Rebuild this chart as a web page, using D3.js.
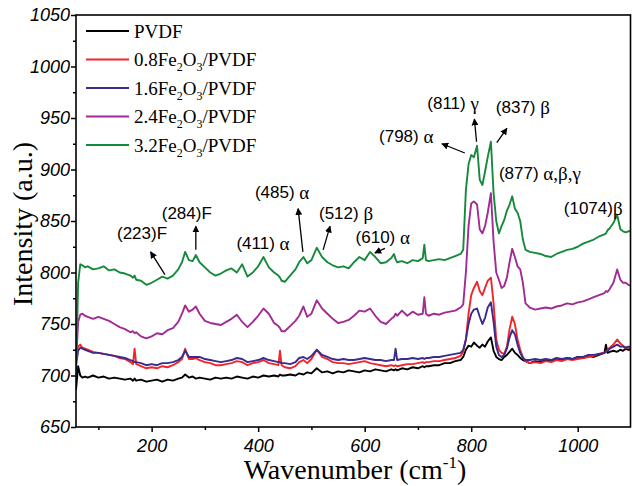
<!DOCTYPE html>
<html>
<head>
<meta charset="utf-8">
<script src="https://cdn.jsdelivr.net/npm/d3@7"></script>
<style>
  body { margin: 0; background: #fff; }
  svg { display: block; }
</style>
</head>
<body>
<div id="chart"></div>
<script>
// Raman spectra (cm^-1 vs a.u.)
const wavenumber = [
  58, 62, 66, 70, 75, 80, 90, 100, 110, 120,
  130, 140, 150, 160, 165, 168, 171, 180, 190, 200,
  210, 220, 230, 240, 250, 257, 263, 270, 277, 283,
  290, 300, 310, 320, 330, 340, 350, 360, 370, 380,
  390, 400, 410, 420, 430, 438, 441, 444, 450, 460,
  470, 477, 485, 492, 500, 510, 520, 530, 540, 550,
  560, 570, 580, 590, 600, 610, 620, 630, 640, 650,
  655, 658, 661, 670, 680, 690, 700, 709, 712, 715,
  720, 730, 740, 750, 760, 770, 780, 785, 790, 795,
  800, 805, 811, 816, 821, 826, 831, 837, 842, 847,
  852, 857, 862, 867, 872, 877, 882, 887, 892, 897,
  902, 910, 920, 930, 940, 950, 960, 970, 980, 990,
  1000, 1010, 1020, 1030, 1040, 1050, 1053, 1056, 1060, 1067,
  1074, 1080, 1085, 1090, 1095, 1100
];

const pvdf = [
  686, 709, 700, 698, 699, 698, 700, 698, 699, 697,
  698, 697, 696, 697, 695, 697, 695, 696, 694, 695,
  696, 694, 696, 695, 697, 698, 701, 698, 699, 697,
  698, 697, 696, 698, 697, 698, 697, 699, 698, 697,
  699, 698, 700, 699, 700, 699, 701, 700, 700, 701,
  700, 702, 701, 703, 702, 707, 703, 704, 702, 704,
  703, 705, 704, 703, 705, 704, 706, 705, 704, 706,
  705, 706, 705, 707, 706, 708, 707, 709, 708, 709,
  709, 710, 710, 712, 712, 714, 715, 718, 725, 729,
  728, 732, 729, 727, 730, 728, 733, 737, 724, 718,
  716, 715, 718, 720, 723, 726, 722, 720, 717, 715,
  714, 712, 714, 713, 715, 714, 716, 715, 717, 716,
  718, 717, 719, 718, 720, 722, 730, 722, 723, 724,
  723, 725, 724, 726, 725, 725
];

const fe08 = [
  715, 728, 730, 727, 726, 725, 723, 722, 721, 720,
  719, 717, 716, 713, 711, 726, 711, 709, 707, 708,
  707, 709, 708, 710, 713, 716, 726, 716, 716, 717,
  715, 713, 712, 710, 710, 711, 712, 714, 713, 710,
  712, 713, 715, 712, 711, 710, 724, 710, 708, 707,
  709, 713, 715, 712, 716, 725, 718, 716, 713, 712,
  712, 711, 712, 713, 714, 712, 711, 710, 709, 710,
  709, 710, 709, 710, 711, 711, 712, 713, 712, 713,
  713, 714, 714, 715, 716, 717, 719, 723, 735, 760,
  778, 785, 791, 782, 778, 785, 792, 795, 770, 735,
  725, 722, 721, 728, 745, 757, 750, 735, 725, 718,
  714, 712, 713, 712, 714, 713, 715, 714, 716, 715,
  716, 717, 718, 719, 721, 722, 723, 725, 727, 730,
  735, 731, 729, 727, 727, 726
];

const fe16 = [
  710, 724, 727, 726, 725, 724, 722, 722, 721, 720,
  719, 718, 717, 715, 714, 713, 713, 712, 710, 711,
  710, 712, 712, 713, 715, 718, 724, 718, 718, 718,
  718, 716, 715, 714, 713, 714, 715, 717, 716, 713,
  714, 715, 717, 715, 714, 713, 713, 712, 712, 711,
  713, 717, 718, 716, 719, 725, 720, 718, 716, 715,
  716, 715, 715, 716, 717, 716, 715, 715, 714, 715,
  715, 726, 715, 716, 716, 717, 716, 717, 716, 717,
  717, 718, 718, 719, 720, 721, 722, 725, 735, 750,
  760, 764, 765, 757, 750, 756, 766, 771, 752, 728,
  720, 718, 720, 726, 737, 744, 740, 730, 722, 717,
  715, 715, 716, 715, 716, 715, 717, 716, 717, 716,
  718, 718, 720, 720, 721, 722, 723, 724, 726, 728,
  730, 728, 728, 727, 728, 728
];

const fe24 = [
  712, 752, 759, 760, 758, 757, 755, 757, 755, 753,
  750, 747, 745, 742, 743, 741, 742, 738, 736, 738,
  741, 740, 744, 746, 752, 760, 768, 762, 764, 767,
  760, 753, 751, 750, 749, 752, 755, 759, 752, 747,
  752, 758, 765, 760, 751, 748, 746, 743, 743, 748,
  753, 758, 767, 757, 760, 773, 765, 760, 755, 751,
  752, 754, 758, 763, 762, 765, 758, 752, 750, 755,
  757, 760, 758, 763, 758, 762, 759, 760, 776, 760,
  758, 760, 759, 761, 762, 763, 766, 769, 800, 845,
  867, 869, 866, 842, 838, 845, 858, 877, 830, 800,
  793, 785, 787, 795, 810, 823, 815, 806, 803, 790,
  770, 766, 764, 765, 766, 765, 767, 768, 770, 769,
  771, 772, 774, 776, 778, 780, 782, 781, 784, 790,
  803, 793, 790, 790, 788, 787
];

const fe32 = [
  700, 790, 808, 807, 805, 806, 803, 804, 806, 802,
  803, 800, 799, 797, 795, 797, 793, 792, 788, 790,
  793, 796, 794, 797, 803, 810, 820, 812, 811, 817,
  810, 805, 800, 797, 799, 802, 804, 800, 808, 796,
  800, 806, 815, 805, 800, 797, 795, 792, 791, 797,
  803, 810, 815, 809, 812, 824, 815, 810, 807, 805,
  806, 804, 810, 815, 812, 820, 815, 809, 810, 814,
  818, 813, 810, 811, 809, 812, 811, 814, 827, 812,
  811, 812, 813, 812, 814, 816, 818, 822, 880, 905,
  914, 912, 923, 890, 885, 898, 912, 927, 877, 850,
  838, 845, 851, 860, 866, 874, 862, 858, 850, 832,
  822, 820, 819, 818, 816, 815, 818, 820, 822, 823,
  825, 828, 830, 832, 835, 837, 838, 841, 843, 848,
  856, 842, 840, 839, 840, 840
];

const seriesValues = [pvdf, fe08, fe16, fe24, fe32];
const seriesColors = ["#000000", "#f2262a", "#3a2b8e", "#a12a93", "#168a3b"];
// legend labels: [text, isSubscript]
const seriesLabels = [
  [["PVDF", 0]],
  [["0.8Fe", 0], ["2", 1], ["O", 0], ["3", 1], ["/PVDF", 0]],
  [["1.6Fe", 0], ["2", 1], ["O", 0], ["3", 1], ["/PVDF", 0]],
  [["2.4Fe", 0], ["2", 1], ["O", 0], ["3", 1], ["/PVDF", 0]],
  [["3.2Fe", 0], ["2", 1], ["O", 0], ["3", 1], ["/PVDF", 0]]
];

const xTicks = [200, 400, 600, 800, 1000];
const xMinorTicks = [100, 300, 500, 700, 900];
const yTicks = [650, 700, 750, 800, 850, 900, 950, 1000, 1050];
const yMinorTicks = [675, 725, 775, 825, 875, 925, 975, 1025];

// peak labels: anchor (wavenumber, intensity), optional arrow from -> to
const peakText = ["(223)F", "(284)F", "(411) ", "(485) ", "(512) ", "(610) ", "(798) ", "(811) ", "(837) ", "(877) ", "(1074)"];
const peakGreek = ["", "", "α", "α", "β", "α", "α", "γ", "β", "α,β,γ", "β"];
const peakPos = [[182, 838], [266, 858], [409, 829], [445, 878], [565, 858], [634, 834.5], [678, 932.5], [766, 965], [897, 961], [929, 897], [1029, 863]];
const peakArrows = [
  [[225, 798], [198, 820]],
  [[283, 822], [283, 845]],
  null,
  [[484, 820], [475, 862]],
  [[522, 822], [535, 845]],
  [[638, 823.5], [619, 819]],
  [[788, 916], [745, 925]],
  [[810, 927], [806, 949]],
  [[848, 926], [867, 940]],
  null,
  null
];

const width = 632, height = 486;
const marginLeft = 76, marginRight = 1, marginTop = 15, marginBottom = 59;

const svg = d3.select("#chart").append("svg")
  .attr("width", width)
  .attr("height", height);

const x = d3.scaleLinear().domain([58, 1100]).range([marginLeft, width - marginRight]);
const y = d3.scaleLinear().domain([650, 1050]).range([height - marginBottom, marginTop]);

svg.append("defs").append("clipPath").attr("id", "plot")
  .append("rect")
  .attr("x", marginLeft).attr("y", marginTop)
  .attr("width", width - marginLeft - marginRight)
  .attr("height", height - marginTop - marginBottom);

svg.append("defs").append("marker")
  .attr("id", "head")
  .attr("viewBox", "0 0 10 10")
  .attr("refX", 9).attr("refY", 5)
  .attr("markerWidth", 7).attr("markerHeight", 7)
  .attr("markerUnits", "userSpaceOnUse")
  .attr("orient", "auto")
  .append("path")
  .attr("d", "M0,0 L10,5 L0,10 z")
  .attr("fill", "#000");

// spectra
const line = d3.line()
  .x((d, i) => x(wavenumber[i]))
  .y(d => y(d));

const lines = svg.append("g").attr("clip-path", "url(#plot)");
seriesValues.forEach((vals, k) => {
  lines.append("path")
    .datum(vals)
    .attr("d", line)
    .attr("fill", "none")
    .attr("stroke", seriesColors[k])
    .attr("stroke-width", 1.9)
    .attr("stroke-linejoin", "round");
});

// axes
const tickFont = "italic 18px 'Liberation Sans', Arial, sans-serif";
const fmt = d3.format("d");

svg.append("g")
  .attr("transform", `translate(0,${height - marginBottom})`)
  .call(d3.axisBottom(x).tickValues(xTicks).tickFormat(fmt).tickSize(5).tickPadding(7).tickSizeOuter(0));
svg.append("g")
  .attr("transform", `translate(0,${height - marginBottom})`)
  .call(d3.axisBottom(x).tickValues(xMinorTicks).tickSize(3).tickFormat("").tickSizeOuter(0));

svg.append("g")
  .attr("transform", `translate(${marginLeft},0)`)
  .call(d3.axisLeft(y).tickValues(yTicks).tickFormat(fmt).tickSize(5).tickPadding(1).tickSizeOuter(0));
svg.append("g")
  .attr("transform", `translate(${marginLeft},0)`)
  .call(d3.axisLeft(y).tickValues(yMinorTicks).tickSize(3).tickFormat("").tickSizeOuter(0));

svg.selectAll(".domain").remove();
svg.selectAll(".tick line").attr("stroke", "#000").attr("stroke-width", 1.5);
svg.selectAll(".tick text").style("font", tickFont).attr("fill", "#000");

// frame
svg.append("rect")
  .attr("x", marginLeft).attr("y", marginTop)
  .attr("width", width - marginLeft - marginRight - 0.5)
  .attr("height", height - marginTop - marginBottom)
  .attr("fill", "none")
  .attr("stroke", "#000")
  .attr("stroke-width", 1.6);

// axis titles
const titleFont = "28px 'Liberation Serif', 'Times New Roman', serif";
const xt = svg.append("text")
  .attr("x", 355).attr("y", 479)
  .attr("text-anchor", "middle")
  .style("font", titleFont);
xt.append("tspan").text("Wavenumber (cm");
xt.append("tspan").text("-1").style("font-size", "17px").attr("dy", -11);
xt.append("tspan").text(")").attr("dy", 11);

svg.append("text")
  .attr("transform", "translate(32,224) rotate(-90)")
  .attr("text-anchor", "middle")
  .style("font", titleFont)
  .text("Intensity (a.u.)");

// legend
const legend = svg.append("g");
seriesLabels.forEach((parts, k) => {
  const ly = 31 + k * 28.5;
  legend.append("line")
    .attr("x1", 86).attr("x2", 129)
    .attr("y1", ly).attr("y2", ly)
    .attr("stroke", seriesColors[k])
    .attr("stroke-width", 2);
  const t = legend.append("text")
    .attr("x", 134).attr("y", ly + 6.5)
    .style("font", "19px 'Liberation Serif', 'Times New Roman', serif");
  let shifted = false;
  parts.forEach(([s, sub]) => {
    const ts = t.append("tspan").text(s);
    if (sub && !shifted) { ts.attr("dy", 5).style("font-size", "12px"); shifted = true; }
    else if (!sub && shifted) { ts.attr("dy", -5); shifted = false; }
    else if (sub) ts.style("font-size", "12px");
  });
});

// peak annotations
const notes = svg.append("g");
peakText.forEach((s, i) => {
  const t = notes.append("text")
    .attr("x", x(peakPos[i][0]))
    .attr("y", y(peakPos[i][1]))
    .attr("text-anchor", "middle")
    .attr("dominant-baseline", "central")
    .style("font", "17px 'Liberation Sans', Arial, sans-serif");
  t.append("tspan").text(s);
  if (peakGreek[i]) {
    t.append("tspan").text(peakGreek[i])
      .style("font", "19px 'Liberation Serif', 'Times New Roman', serif");
  }
  const a = peakArrows[i];
  if (a) {
    notes.append("line")
      .attr("x1", x(a[0][0])).attr("y1", y(a[0][1]))
      .attr("x2", x(a[1][0])).attr("y2", y(a[1][1]))
      .attr("stroke", "#000")
      .attr("stroke-width", 1.3)
      .attr("marker-end", "url(#head)");
  }
});
</script>
</body>
</html>
